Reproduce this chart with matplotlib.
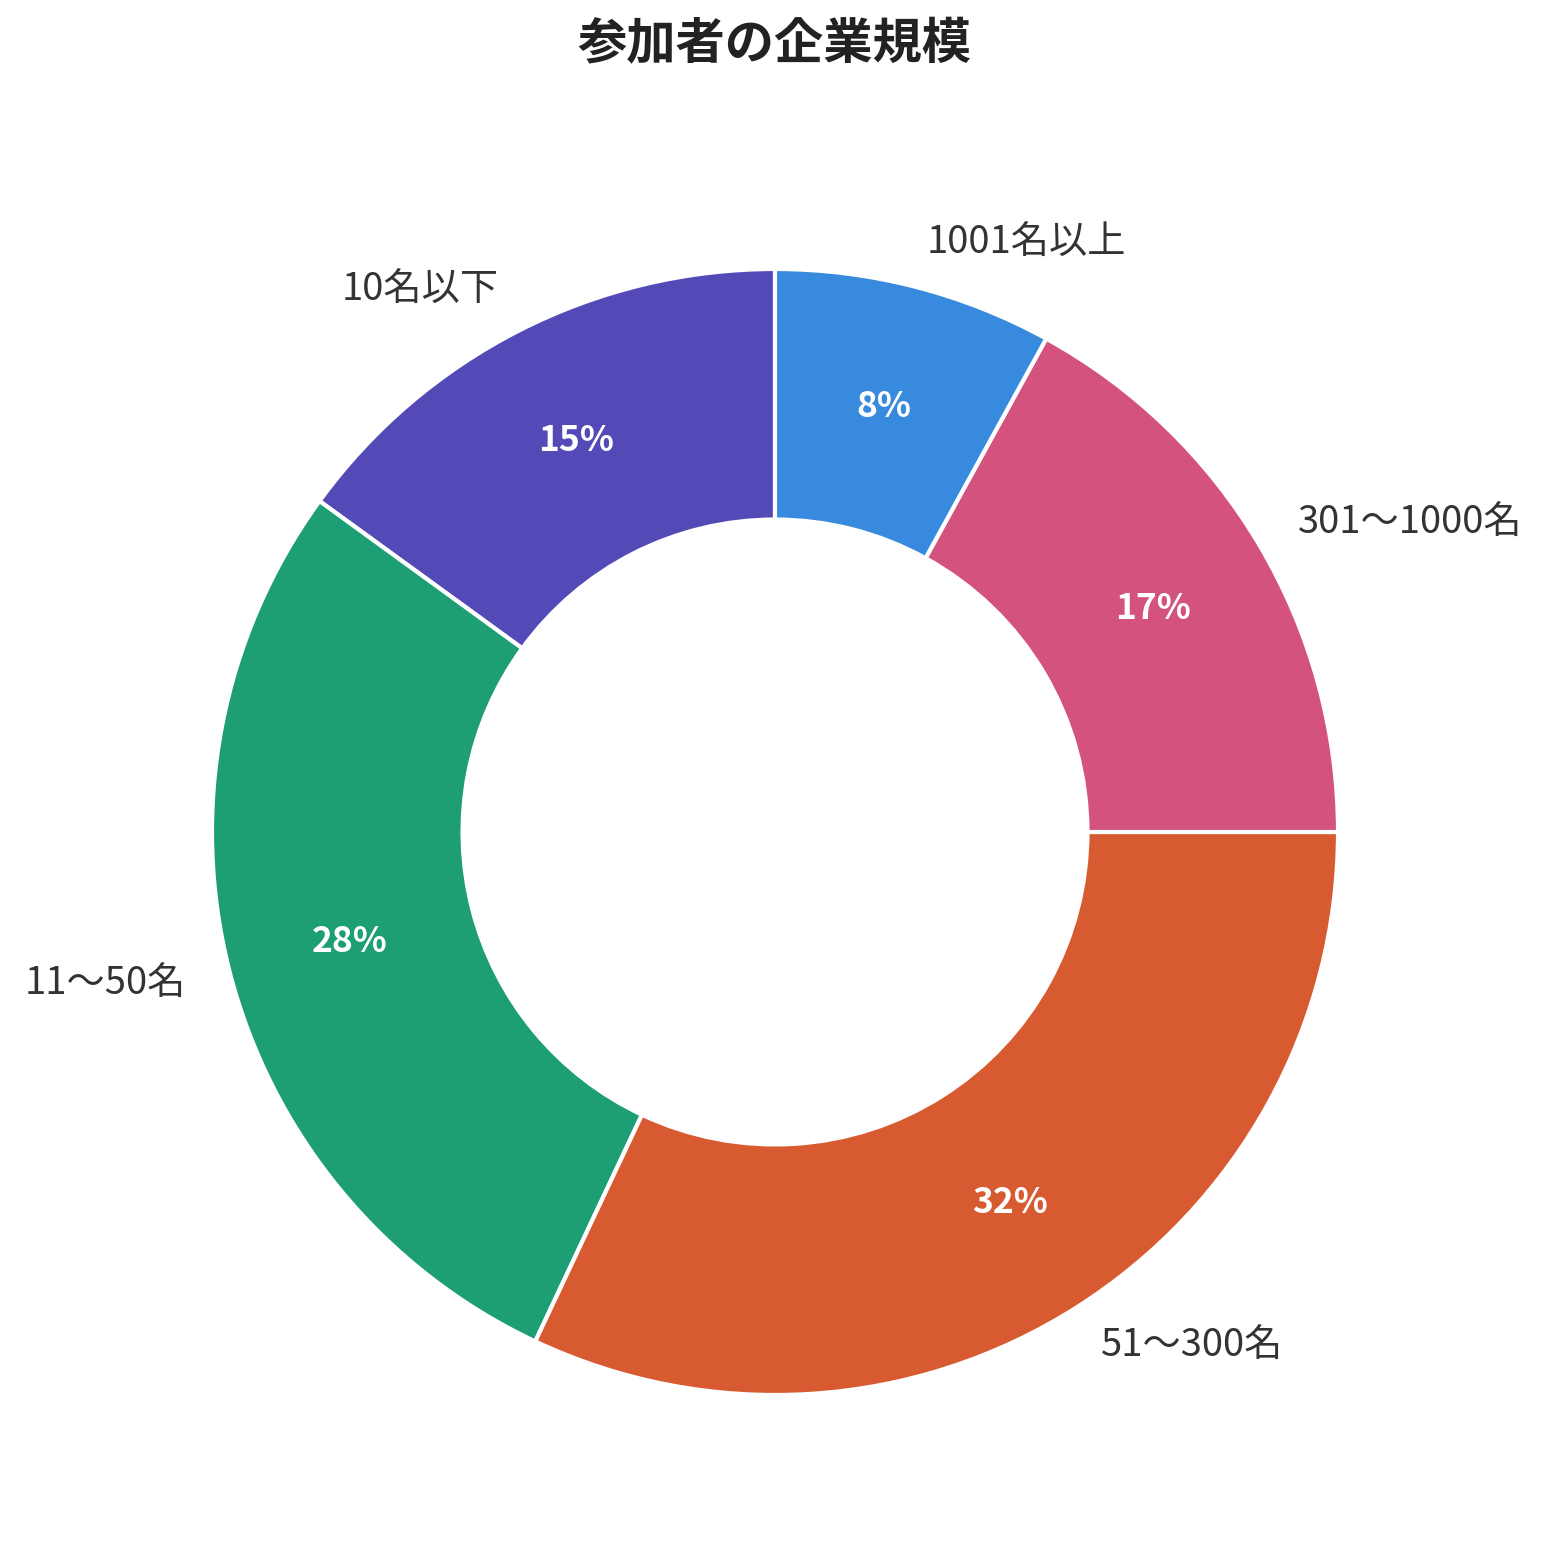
import matplotlib.pyplot as plt

plt.rcParams['font.family'] = ['Noto Sans CJK JP', 'DejaVu Sans']

categories = ["10名以下", "11〜50名", "51〜300名", "301〜1000名", "1001名以上"]
values = [15, 28, 32, 17, 8]
colors = ["#534AB7", "#1D9E75", "#D85A30", "#D4537E", "#378ADD"]

fig = plt.figure(figsize=(15.49, 15.6), dpi=100)
W, H = 1549, 1560
r_px = 563
side = 2.5 * r_px
ax = fig.add_axes([(775 - side / 2) / W, (H - 832 - side / 2) / H, side / W, side / H])

wedges, texts, autotexts = ax.pie(
    values, labels=categories, colors=colors, startangle=90, counterclock=True,
    autopct='%d%%', pctdistance=0.78, labeldistance=1.08,
    wedgeprops=dict(width=0.445, edgecolor='white', linewidth=3),
    textprops=dict(fontsize=27.5, color='#333333'))

for t in autotexts:
    t.set_color('white')
    t.set_fontweight('bold')
    t.set_fontsize(25.5)

ax.set_aspect('equal')
fig.text(0.5, 1 - 45 / H, "参加者の企業規模", ha='center', va='center',
         fontsize=35.5, fontweight='bold', color='#222222')

fig.savefig("out.png", dpi=100)
